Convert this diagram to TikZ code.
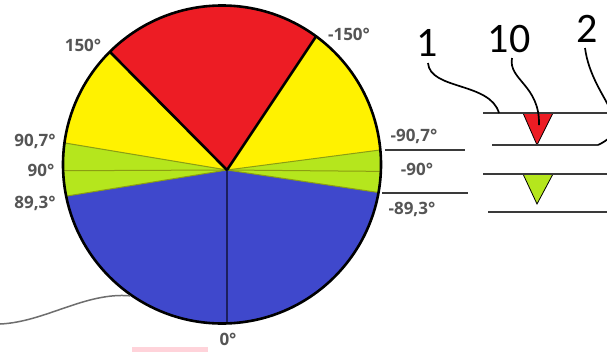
\documentclass[tikz,border=0pt]{standalone}
\usepackage{fontspec}
\newfontfamily\lblfont{Open Sans}
\newfontfamily\bigfont{Carlito}
\definecolor{pred}{HTML}{ED1C24}
\definecolor{pyel}{HTML}{FFF200}
\definecolor{pgrn}{HTML}{B5E61D}
\definecolor{pblu}{HTML}{3F48CC}
\definecolor{lblgray}{HTML}{555555}
\definecolor{bndgreen}{HTML}{8C9E12}
\definecolor{navyline}{HTML}{1C1F5E}
\definecolor{hline}{HTML}{3A3A3A}
\definecolor{pinkish}{HTML}{FFD3DA}
\definecolor{curvegray}{HTML}{6E6E6E}
\begin{document}
\begin{tikzpicture}[x=1pt,y=-1pt,
  lbl/.style={font=\lblfont\bfseries\fontsize{17}{20}\selectfont, text=lblgray, inner sep=0pt, text height=12.5pt, text depth=0pt},
  biglbl/.style={font=\bigfont\fontsize{42}{46}\selectfont, text=black, inner sep=0pt, text height=26.5pt, text depth=0pt},
  bnd/.style={draw=bndgreen, line width=1pt},
  sector/.style={draw=black, line width=2.6pt},
  rim/.style={draw=black, line width=2.6pt, circle, minimum size=318pt, inner sep=0pt},
  hl/.style={draw=hline, line width=1.8pt},
  leader/.style={draw=black, line width=1.7pt},
  tri/.style={draw=black, line width=0.8pt, line join=miter}]
\clip (0,0) rectangle (607,351);
\fill[white] (0,0) rectangle (607,351);
\fill[pinkish] (132,347) rectangle (208,352);
\coordinate (A) at (227,170);
\coordinate (C) at (222,164.5);
\begin{scope}
  \clip (C) circle[radius=159pt];
  \fill[pblu] (C) circle[radius=159pt];
  \fill[pyel] (A) -- (-97,116) -- (-97,-100) -- (533,-100) -- (533,130) -- cycle;
  \fill[pgrn] (A) -- (-97,116) -- (-93,222) -- cycle;
  \fill[pgrn] (A) -- (533,130) -- (537,216) -- cycle;
  \fill[pred] (A) -- (-7,-66) -- (403,-94) -- cycle;
  \draw[bnd] (A) -- (-97,116);
  \draw[bnd] (A) -- (-93,222);
  \draw[bnd] (A) -- (533,130);
  \draw[bnd] (A) -- (537,216);
  \draw[bnd] (A) -- (0,171);
  \draw[bnd] (A) -- (450,172);
  \draw[draw=navyline, line width=1.1pt] (A) -- (227,340);
  \draw[sector] (A) -- (-7,-66);
  \draw[sector] (A) -- (403,-94);
\end{scope}
\node[rim] (pie) at (C) {};
% lead-in curve at the lower left
\coordinate (cv0) at (0,324);
\draw[draw=curvegray, line width=1.5pt] (cv0) .. controls (45,322) and (85,292) .. (pie.235);
% angle labels
\node[lbl] (l150) at (83,45) {150°};
\node[lbl] (lm150) at (349,34) {-150°};
\node[lbl] (l907) at (35,140) {90,7°};
\node[lbl] (l90) at (41,170) {90°};
\node[lbl] (l893) at (35,202) {89,3°};
\node[lbl] (l0) at (228,339) {0°};
\node[lbl] (lm907) at (414,135) {-90,7°};
\node[lbl] (lm90) at (417,169) {-90°};
\node[lbl] (lm893) at (412,208) {-89,3°};
% short lines beside the circle
\coordinate (h1a) at (385,150); \coordinate (h1b) at (465,150);
\coordinate (h2a) at (382,193); \coordinate (h2b) at (468,193);
\draw[hl] (h1a) -- (h1b);
\draw[hl] (h2a) -- (h2b);
% right-hand scheme
\coordinate (a1) at (483,113); \coordinate (a2) at (610,113);
\coordinate (b1) at (492,145); \coordinate (b2) at (598,145);
\coordinate (c1) at (483,174); \coordinate (c2) at (610,174);
\coordinate (d1) at (488,212); \coordinate (d2) at (610,212);
\draw[tri, fill=pred] (523,113) -- (553,113) -- (537,145) -- cycle;
\draw[tri, fill=pgrn] (523,174) -- (553,174) -- (537,204) -- cycle;
\draw[hl] (a1) -- (a2);
\draw[hl] (b1) -- (b2);
\draw[hl] (c1) -- (c2);
\draw[hl] (d1) -- (d2);
% big labels and leaders
\node[biglbl] (n1) at (427,43.5) {1};
\node[biglbl] (n10) at (509,39) {10};
\node[biglbl] (n2) at (587,29) {2};
\coordinate (s1) at (428,63); \coordinate (e1) at (499,113);
\coordinate (s10) at (512,58); \coordinate (e10) at (539,125);
\coordinate (s2) at (585,48);
\draw[leader] (s1) .. controls (430,90) and (490,82) .. (e1);
\draw[leader] (s10) .. controls (508,80) and (540,85) .. (e10);
\draw[leader] (s2) .. controls (592,100) and (640,125) .. (b2);
\end{tikzpicture}
\end{document}
